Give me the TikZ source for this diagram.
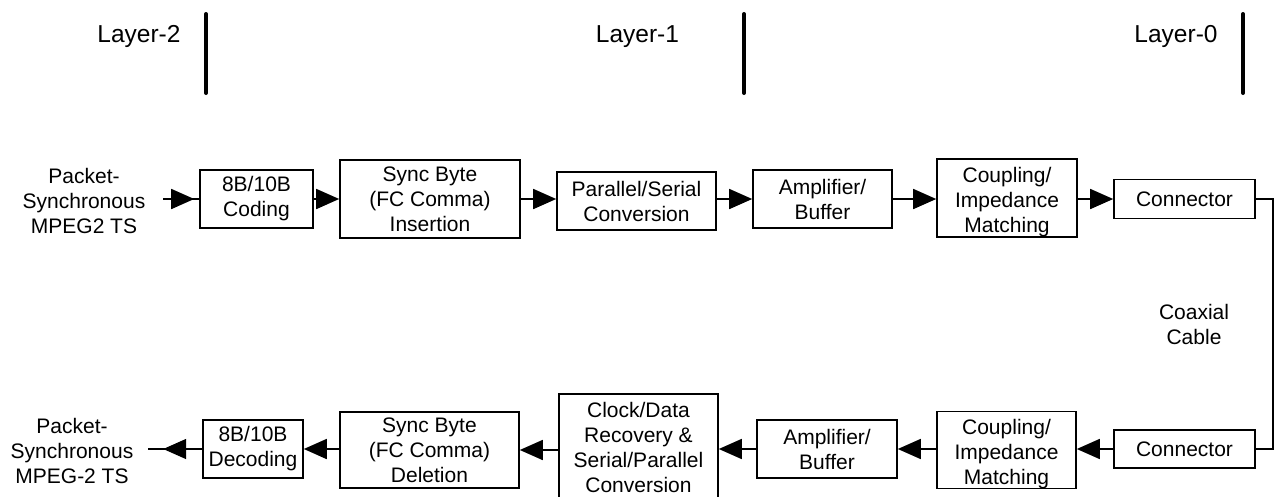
\documentclass[tikz,border=0pt]{standalone}
\usepackage{fontspec}
\setmainfont{Liberation Sans}
\usetikzlibrary{arrows.meta,decorations.markings}
\newcommand\blocktext{\fontsize{21}{25}\selectfont}
\newcommand\layertext{\fontsize{24.5}{28}\selectfont}
\begin{document}
\begin{tikzpicture}[x=1pt,y=-1pt,
  blk/.style={draw, line width=1.6pt, inner sep=0pt, align=center, font=\blocktext},
  lbl/.style={align=center, font=\blocktext, inner sep=0pt},
  layer/.style={font=\layertext, anchor=base, inner sep=0pt},
  link/.style={line width=1.6pt},
  flow/.style={link, -{Triangle[length=23pt,width=20pt]}},
  tipat/.style={link, postaction={decorate},
    decoration={markings, mark=at position #1 with {\arrow{Triangle[length=23pt,width=20pt]}}}},
  bar/.style={line width=4pt, line cap=round}]
\useasboundingbox (0,0) rectangle (1276,496);

% layer headings and separators
\node[layer] (l2) at (139,42) {Layer-2};
\node[layer] (l1) at (637.5,42) {Layer-1};
\node[layer] (l0) at (1176,42) {Layer-0};
\draw[bar] (206,14) -- (206,93);
\draw[bar] (744,14) -- (744,93);
\draw[bar] (1243,14) -- (1243,93);

% transmit chain
\node[lbl] (src) at (84,201) {Packet-\\Synchronous\\MPEG2 TS};
\coordinate (srcIn) at (163,199);
\node[blk, minimum width=113pt, minimum height=58pt] (c1) at (256.5,199) {8B/10B\\Coding};
\node[blk, minimum width=180pt, minimum height=78pt] (s1) at (430,199) {Sync Byte\\(FC Comma)\\Insertion};
\node[blk, minimum width=159pt, minimum height=58pt] (p1) at (636.5,201) {Parallel/Serial\\Conversion};
\node[blk, minimum width=139pt, minimum height=58pt] (a1) at (822.5,199) {Amplifier/\\Buffer};
\node[blk, minimum width=140pt, minimum height=78pt,
  path picture={\node[lbl] (cp1t) at ([yshift=-4pt]path picture bounding box.center) {Coupling/\\Impedance\\Matching};}]
  (cp1) at (1007,198) {};
\node[blk, minimum width=141pt, minimum height=39pt] (k1) at (1184.5,199) {Connector};

% cable
\coordinate (bendTop) at (1273,199);
\node[lbl] (coax) at (1194,324) {Coaxial\\Cable};

% receive chain
\node[blk, minimum width=141pt, minimum height=38pt] (k2) at (1184.5,449) {Connector};
\node[blk, minimum width=139pt, minimum height=77pt,
  path picture={\node[lbl] (cp2t) at ([yshift=-4pt]path picture bounding box.center) {Coupling/\\Impedance\\Matching};}]
  (cp2) at (1006.5,450) {};
\node[blk, minimum width=140pt, minimum height=58pt] (a2) at (827,449) {Amplifier/\\Buffer};
\node[blk, minimum width=159pt, minimum height=107pt, anchor=north] (cd) at (638.5,393) {Clock/Data\\Recovery \&\\Serial/Parallel\\Conversion};
\node[blk, minimum width=179pt, minimum height=76pt] (s2) at (429.5,450) {Sync Byte\\(FC Comma)\\Deletion};
\node[blk, minimum width=100pt, minimum height=58pt] (d2) at (253,449) {8B/10B\\Decoding};
\node[lbl] (sink) at (72,451) {Packet-\\Synchronous\\MPEG-2 TS};
\coordinate (sinkOut) at (148,449);

% connectors
\draw[tipat=-5pt] (srcIn) -- (c1.west);
\draw[flow] (c1) -- (s1);
\draw[flow] (s1.east) -- (s1.east -| p1.west);
\draw[flow] (p1.east |- a1.west) -- (a1.west);
\draw[flow] (a1.east) -- (a1.east -| cp1.west);
\draw[flow] (cp1.east |- k1.west) -- (k1.west);
\draw[link] (k1.east) -- (bendTop) |- (k2.east);
\draw[flow] (k2.west) -- (k2.west -| cp2.east);
\draw[flow] (cp2.west |- a2.east) -- (a2.east);
\draw[flow] (a2.west) -- (a2.west -| cd.east);
\draw[flow] (cd.west |- s2.east) -- (s2.east);
\draw[flow] (s2.west |- d2.east) -- (d2.east);
\draw[tipat=39pt] (d2.west) -- (sinkOut);
\end{tikzpicture}
\end{document}
